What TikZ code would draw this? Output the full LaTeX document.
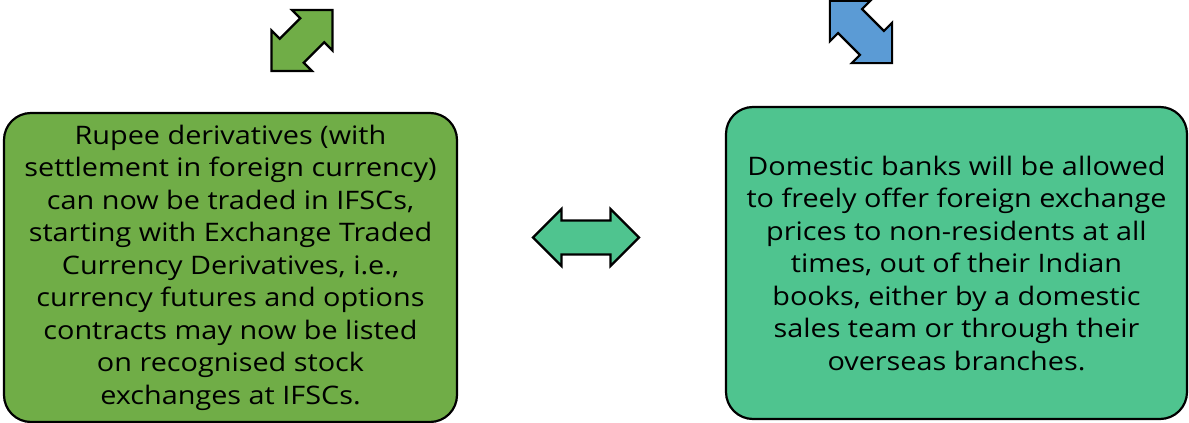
\documentclass[tikz,border=0pt]{standalone}
\usepackage{fontspec}
\setmainfont[FakeStretch=1.13]{Open Sans}
\definecolor{leafgreen}{HTML}{70AD47}
\definecolor{mintgreen}{HTML}{4FC48F}
\definecolor{skyblue}{HTML}{5B9BD5}
\tikzset{
  infobox/.style={draw=black, line width=2.2pt, rounded corners=27pt,
    align=center, inner sep=0pt, font=\fontsize{25.5}{32.5}\selectfont},
  blockarrow/.style={draw=black, line width=2.2pt, line join=miter}
}
% double-headed block arrow of length #1 centred on the origin
\newcommand{\dblarrowpath}[1]{%
  (-#1/2,0) -- (-#1/2+28.5,-28.5) -- (-#1/2+28.5,-17) -- (#1/2-28.5,-17)
  -- (#1/2-28.5,-28.5) -- (#1/2,0) -- (#1/2-28.5,28.5) -- (#1/2-28.5,17)
  -- (-#1/2+28.5,17) -- (-#1/2+28.5,28.5) -- cycle}
\begin{document}
\begin{tikzpicture}[x=1pt,y=-1pt]
\useasboundingbox (0,0) rectangle (1189,423);

\node[infobox, fill=leafgreen, minimum width=453pt, minimum height=309pt]
  (rupee) at (230.5,267.5) {Rupee derivatives (with\\
  settlement in foreign currency)\\
  can now be traded in IFSCs,\\
  starting with Exchange Traded\\
  Currency Derivatives, i.e.,\\
  currency futures and options\\
  contracts may now be listed\\
  on recognised stock\\
  exchanges at IFSCs.};

\node[infobox, fill=mintgreen, minimum width=461pt, minimum height=312pt]
  (banks) at (956.5,263) {Domestic banks will be allowed\\
  to freely offer foreign exchange\\
  prices to non-residents at all\\
  times, out of their Indian\\
  books, either by a domestic\\
  sales team or through their\\
  overseas branches.};

% link between the two boxes
\draw[blockarrow, fill=mintgreen, shift={(586,237.5)}] \dblarrowpath{106};
% diagonal arrows above the boxes
\draw[blockarrow, fill=leafgreen, shift={(302,40.5)}, rotate=45] \dblarrowpath{86};
\draw[blockarrow, fill=skyblue, shift={(861,32)}, rotate=-45] \dblarrowpath{88};
\end{tikzpicture}
\end{document}
